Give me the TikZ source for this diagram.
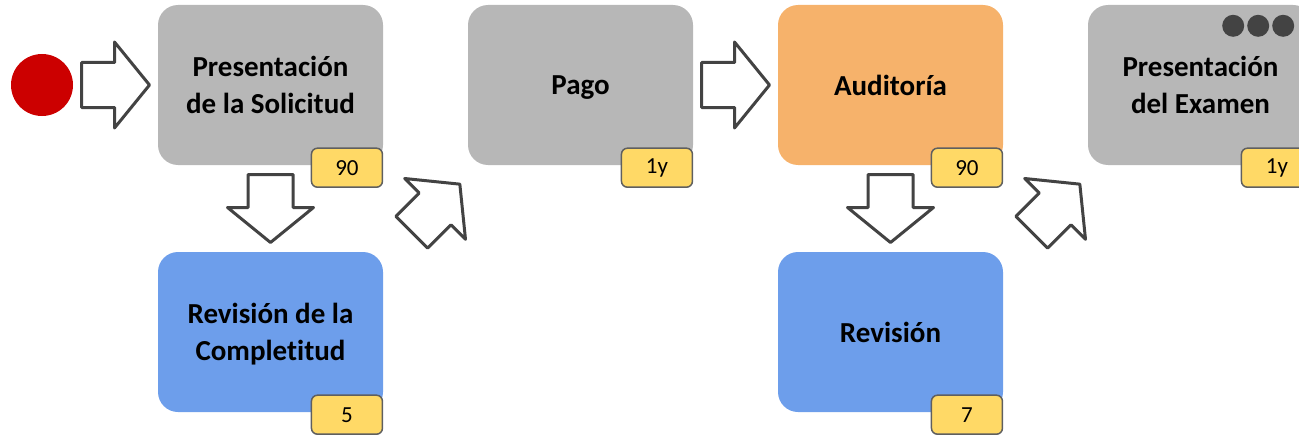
\documentclass[tikz,border=0pt]{standalone}
\usepackage{fontspec}
\setmainfont[Ligatures=NoCommon]{Carlito}
\usetikzlibrary{positioning,calc}
\definecolor{fcGray}{RGB}{183,183,183}
\definecolor{fcBlue}{RGB}{109,158,235}
\definecolor{fcOrange}{RGB}{246,178,107}
\definecolor{fcYellow}{RGB}{255,217,102}
\definecolor{fcRed}{RGB}{204,0,0}
\definecolor{fcDark}{RGB}{67,67,67}
\tikzset{
    base/.style={align=center, text=black},
    stage/.style={base, rectangle, rounded corners=20pt, minimum width=225pt,
                  minimum height=160pt, inner sep=0pt, text depth=0pt,
                  font=\fontsize{29}{37}\selectfont\bfseries},
    grayStage/.style={stage, fill=fcGray},
    blueStage/.style={stage, fill=fcBlue},
    orangeStage/.style={stage, fill=fcOrange},
    badge/.style={base, rectangle, rounded corners=6pt, draw=fcDark!85, line width=1.5pt,
                  fill=fcYellow, minimum width=71pt, minimum height=39pt, inner sep=0pt,
                  anchor=east, font=\fontsize{23}{26}\selectfont},
    startDot/.style={circle, fill=fcRed, minimum size=62pt, inner sep=0pt},
    flow/.style={draw=fcDark, fill=white, line width=3pt, line join=round},
    blockarrow/.pic={
        \path[flow] (-34,-22.5) -- (-1,-22.5) -- (-1,-43) -- (34,0) -- (-1,43)
            -- (-1,22.5) -- (-34,22.5) -- cycle;
    }
}

\begin{document}
\begin{tikzpicture}[x=1pt, y=-1pt]
  \path[use as bounding box, clip] (0,0) rectangle (1299,436);

  \node[startDot] (start) at (42,85) {};
  \node[grayStage] (solicitud) at (270.5,85) {Presentación\\de la Solicitud};
  \node[grayStage] (pago) at (580.5,85) {Pago};
  \node[orangeStage] (auditoria) at (890.5,85) {Auditoría};
  \node[grayStage] (examen) at (1200.5,85) {Presentación\\del Examen};
  \node[blueStage] (completitud) at (270.5,332) {Revisión de la\\Completitud};
  \node[blueStage] (revision) at (890.5,332) {Revisión};

  % duration badges
  \node[badge] (solicitudDays) at ($(solicitud.south east)+(0,2.5)$) {90};
  \node[badge] (pagoDays) at ($(pago.south east)+(0,2.5)$) {1y};
  \node[badge] (auditoriaDays) at ($(auditoria.south east)+(0,2.5)$) {90};
  \node[badge] (examenDays) at ($(examen.south east)+(0,2.5)$) {1y};
  \node[badge] (completitudDays) at ($(completitud.south east)+(0,2.5)$) {5};
  \node[badge] (revisionDays) at ($(revision.south east)+(0,2.5)$) {7};

  % more menu
  \foreach \dx in {0,25,50}
    \fill[fcDark] ($(examen.north east)+(-80+\dx,21)$) circle (11pt);

  % block arrows
  \pic at ($(start.east)!0.5!(solicitud.west)$) {blockarrow};
  \pic[rotate=-90] at ($(solicitud.south)!0.5!(completitud.north)$) {blockarrow};
  \pic[rotate=45] at ($(pago.south west)+(-32,43)$) {blockarrow};
  \pic at ($(pago.east)!0.5!(auditoria.west)$) {blockarrow};
  \pic[rotate=-90] at ($(auditoria.south)!0.5!(revision.north)$) {blockarrow};
  \pic[rotate=45] at ($(examen.south west)+(-32,43)$) {blockarrow};
\end{tikzpicture}
\end{document}
